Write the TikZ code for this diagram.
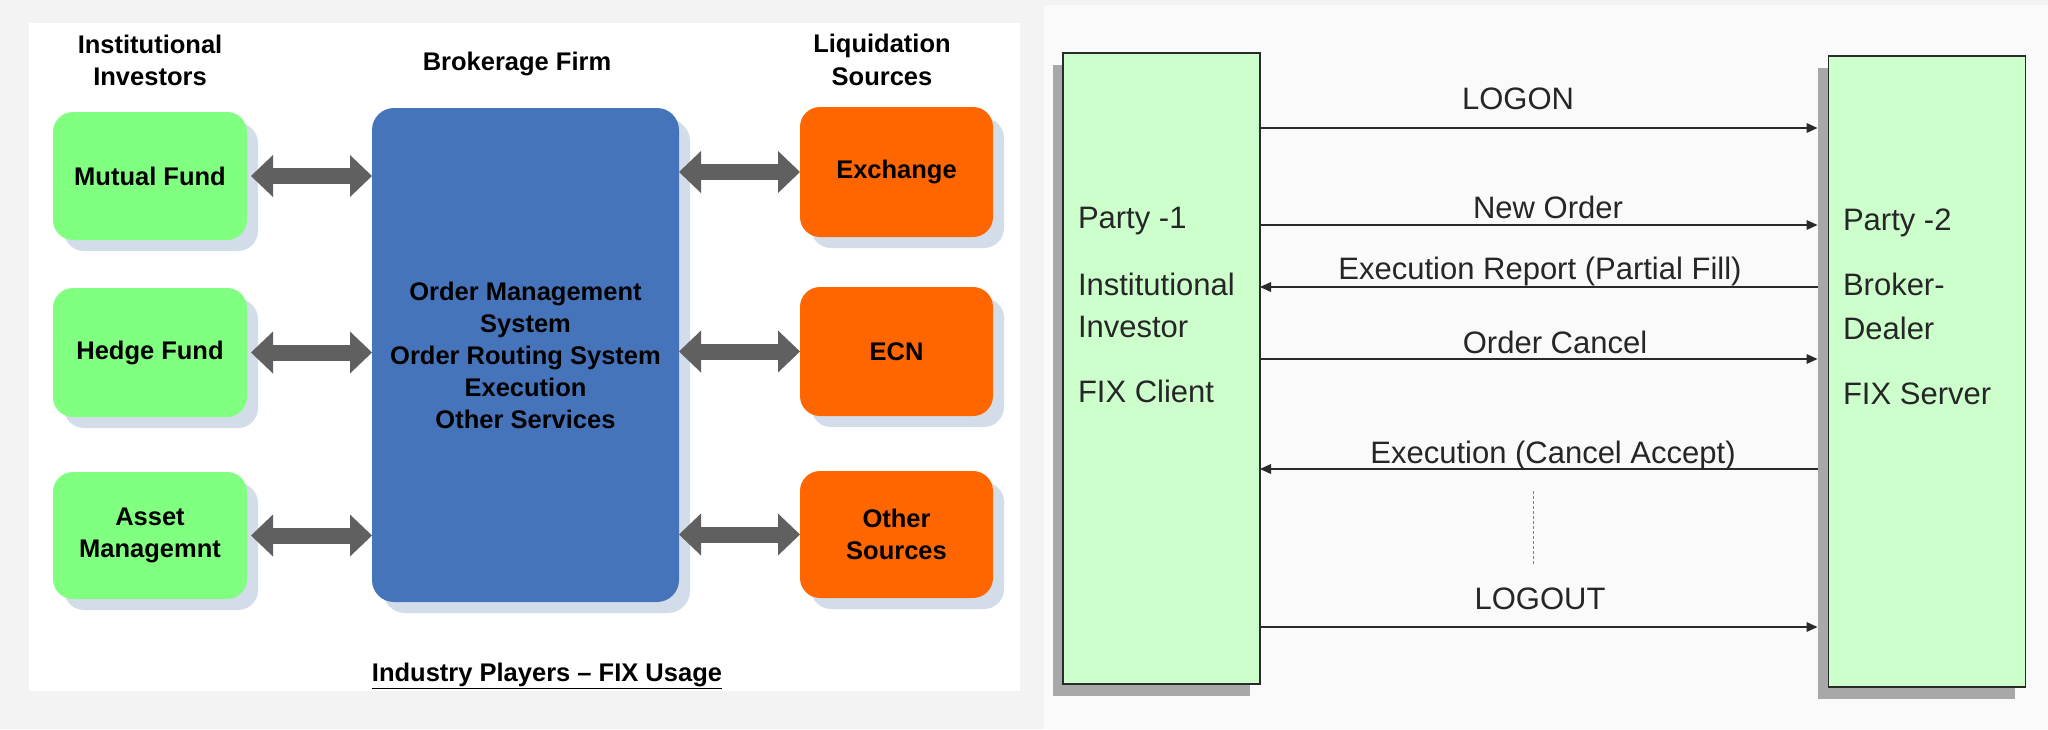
\documentclass[tikz,border=0pt]{standalone}
\usepackage{fontspec}
\setmainfont{Liberation Sans}
\usetikzlibrary{arrows.meta,shadows}
\definecolor{bggray}{HTML}{F3F3F3}
\definecolor{rpanel}{HTML}{FAFAFA}
\definecolor{mfgreen}{HTML}{80FF80}
\definecolor{exorange}{HTML}{FF6600}
\definecolor{bfblue}{HTML}{4674BA}
\definecolor{shadowblue}{HTML}{D3DDE9}
\definecolor{arrowgray}{HTML}{606060}
\definecolor{fixgreen}{HTML}{CCFFCC}
\definecolor{fixshadow}{HTML}{A8A8A8}
\definecolor{linegray}{HTML}{2A2A2A}
\begin{document}
\begin{tikzpicture}[x=1pt,y=-1pt,
  every node/.style={inner sep=0pt, outer sep=0pt},
  boldtext/.style={font=\fontsize{25.5}{32}\selectfont\bfseries, text=black},
  rbox/.style={rounded corners=20pt, minimum width=194pt, boldtext, align=center,
     drop shadow={shadow xshift=11pt, shadow yshift=-11pt, opacity=1, fill=shadowblue}},
  invbox/.style={rbox, fill=mfgreen},
  liqbox/.style={rbox, fill=exorange, minimum width=193pt},
  bigarrow/.style={draw=arrowgray, line width=16pt,
     {Triangle[width=42pt,length=22pt,line width=0pt]}-{Triangle[width=42pt,length=22pt,line width=0pt]}},
  header/.style={boldtext, anchor=base},
  party/.style={draw=linegray, line width=1.5pt, fill=fixgreen, minimum width=197pt, minimum height=631pt,
     drop shadow={shadow xshift=-10.5pt, shadow yshift=-12pt, opacity=1, fill=fixshadow}},
  ptext/.style={font=\fontsize{31}{38}\selectfont, text=black!85, anchor=base west},
  mlabel/.style={font=\fontsize{31}{38}\selectfont, text=black!85, anchor=base},
  msg/.style={draw=linegray, line width=2pt, -{Triangle[length=11pt,width=10pt,line width=0pt]}},
  msgR/.style={msg, shorten >=11pt},
  msgL/.style={msg, shorten <=11pt},
]
\fill[bggray] (0,0) rectangle (2048,729);
\useasboundingbox (0,0) rectangle (2048,729);
\fill[white] (29,23) rectangle (1020,691);
\fill[rpanel] (1044,5) rectangle (2048,729);

% headers
\node[header] (h1a) at (150,53) {Institutional};
\node[header] (h1b) at (150,85) {Investors};
\node[header] (h2) at (517,70) {Brokerage Firm};
\node[header] (h3a) at (882,52) {Liquidation};
\node[header] (h3b) at (882,85) {Sources};

% boxes
\node[invbox, minimum height=128pt] (mf) at (150,176) {Mutual Fund};
\node[invbox, minimum height=129pt] (hf) at (150,352.5) {Hedge Fund};
\node[invbox, minimum height=127pt] (am) at (150,535.5) {Asset\\Managemnt};
\node[rbox, fill=bfblue, minimum width=307pt, minimum height=494pt, rounded corners=22pt] (bf) at (525.5,355)
  {Order Management\\System\\Order Routing System\\Execution\\Other Services};
\node[liqbox, minimum height=130pt] (ex) at (896.5,172) {Exchange};
\node[liqbox, minimum height=129pt] (ecn) at (896.5,351.5) {ECN};
\node[liqbox, minimum height=127pt] (os) at (896.5,534.5) {Other\\Sources};

% thick double arrows
\draw[bigarrow, shorten <=4pt] (mf.east) -- (mf.east -| bf.west);
\draw[bigarrow, shorten <=4pt] (hf.east) -- (hf.east -| bf.west);
\draw[bigarrow, shorten <=4pt] (am.east) -- (am.east -| bf.west);
\draw[bigarrow] (ex.west -| bf.east) -- (ex.west);
\draw[bigarrow] (ecn.west -| bf.east) -- (ecn.west);
\draw[bigarrow] (os.west -| bf.east) -- (os.west);

\node[header] (cap) at (547,681) {\underline{Industry Players -- FIX Usage}};

% right panel
\node[party] (p1) at (1161.5,368.5) {};
\node[party] (p2) at (1927,371.5) {};

\node[ptext] (t1a) at (1078,228) {Party -1};
\node[ptext] (t1b) at (1078,295) {Institutional};
\node[ptext] (t1c) at (1078,337) {Investor};
\node[ptext] (t1d) at (1078,402) {FIX Client};
\node[ptext] (t2a) at (1843,230) {Party -2};
\node[ptext] (t2b) at (1843,295) {Broker-};
\node[ptext] (t2c) at (1843,339) {Dealer};
\node[ptext] (t2d) at (1843,404) {FIX Server};

\draw[msgR] (p1.east |- 0,128) -- (p2.west |- 0,128);
\draw[msgR] (p1.east |- 0,225) -- (p2.west |- 0,225);
\draw[msgL] (p2.west |- 0,287) -- (p1.east |- 0,287);
\draw[msgR] (p1.east |- 0,359) -- (p2.west |- 0,359);
\draw[msgL] (p2.west |- 0,469) -- (p1.east |- 0,469);
\draw[msgR] (p1.east |- 0,627) -- (p2.west |- 0,627);

\node[mlabel] (l1) at (1518,109) {LOGON};
\node[mlabel] (l2) at (1548,218) {New Order};
\node[mlabel] (l3) at (1540,279) {Execution Report (Partial Fill)};
\node[mlabel] (l4) at (1555,353) {Order Cancel};
\node[mlabel] (l5) at (1553,463) {Execution (Cancel Accept)};
\node[mlabel] (l6) at (1540,609) {LOGOUT};

\coordinate (d1) at (1533,491);
\coordinate (d2) at (1533,565);
\draw[gray, line width=0.8pt, dash pattern=on 3pt off 2pt] (d1) -- (d2);
\end{tikzpicture}
\end{document}
